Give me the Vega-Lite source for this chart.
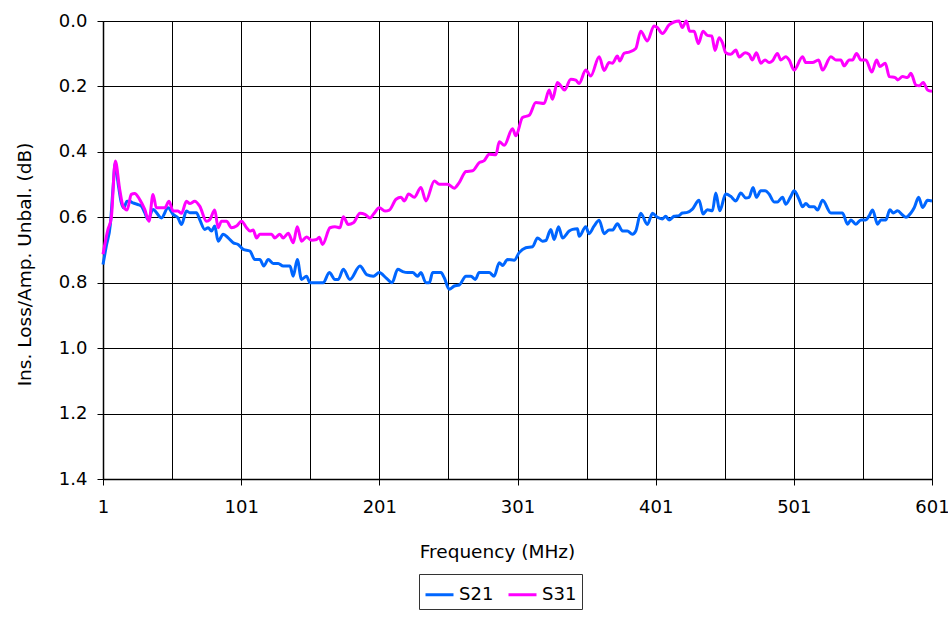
{
"$schema": "https://vega.github.io/schema/vega-lite/v6.json",
"autosize": "none",
"width": 829,
"height": 458,
"padding": {"left": 103, "top": 21, "right": 16, "bottom": 138},
"background": "white",
"config": {"view": {"stroke": "#808080", "strokeWidth": 1}, "font": "DejaVu Sans"},
"datasets": {
"S21": [{"f":1,"v":0.744},{"f":3.4,"v":0.688},{"f":6.3,"v":0.622},{"f":8.2,"v":0.515},{"f":9.9,"v":0.434},{"f":11.9,"v":0.495},{"f":14.3,"v":0.556},{"f":16,"v":0.571},{"f":18.4,"v":0.551},{"f":20.3,"v":0.551},{"f":22.7,"v":0.556},{"f":26.4,"v":0.561},{"f":28.8,"v":0.566},{"f":31.2,"v":0.586},{"f":33.6,"v":0.607},{"f":37.2,"v":0.576},{"f":43.3,"v":0.602},{"f":48.1,"v":0.571},{"f":51.7,"v":0.591},{"f":55.3,"v":0.602},{"f":57.8,"v":0.622},{"f":61.4,"v":0.581},{"f":63.8,"v":0.586},{"f":68.6,"v":0.586},{"f":71,"v":0.607},{"f":74.7,"v":0.637},{"f":77.1,"v":0.632},{"f":79.5,"v":0.642},{"f":81.9,"v":0.627},{"f":84.3,"v":0.673},{"f":88,"v":0.652},{"f":91.6,"v":0.663},{"f":95.2,"v":0.678},{"f":98.8,"v":0.683},{"f":102.5,"v":0.698},{"f":107.3,"v":0.703},{"f":110.9,"v":0.729},{"f":114.5,"v":0.729},{"f":117.4,"v":0.749},{"f":120.6,"v":0.729},{"f":124.2,"v":0.741},{"f":127.8,"v":0.741},{"f":131.4,"v":0.749},{"f":136.3,"v":0.749},{"f":138.7,"v":0.78},{"f":141.6,"v":0.729},{"f":144.7,"v":0.79},{"f":148.3,"v":0.78},{"f":150.8,"v":0.8},{"f":160.4,"v":0.8},{"f":164.8,"v":0.769},{"f":168.9,"v":0.79},{"f":171.3,"v":0.79},{"f":174.9,"v":0.759},{"f":179.7,"v":0.79},{"f":187,"v":0.749},{"f":191.8,"v":0.775},{"f":196.7,"v":0.78},{"f":201,"v":0.769},{"f":205.8,"v":0.785},{"f":210.2,"v":0.8},{"f":214.3,"v":0.759},{"f":217.9,"v":0.766},{"f":221.5,"v":0.769},{"f":225.1,"v":0.769},{"f":228.7,"v":0.78},{"f":231.1,"v":0.769},{"f":234.7,"v":0.8},{"f":237.2,"v":0.8},{"f":239.6,"v":0.769},{"f":245.6,"v":0.769},{"f":248,"v":0.785},{"f":251.6,"v":0.82},{"f":255.2,"v":0.81},{"f":258.8,"v":0.807},{"f":263.7,"v":0.78},{"f":267.3,"v":0.78},{"f":270.4,"v":0.79},{"f":273.3,"v":0.769},{"f":280.5,"v":0.769},{"f":284.1,"v":0.78},{"f":287.8,"v":0.739},{"f":290.2,"v":0.747},{"f":293.8,"v":0.729},{"f":298.6,"v":0.731},{"f":302.2,"v":0.708},{"f":307,"v":0.693},{"f":311.9,"v":0.69},{"f":315.5,"v":0.663},{"f":319.1,"v":0.673},{"f":321.5,"v":0.671},{"f":325.1,"v":0.637},{"f":327.5,"v":0.668},{"f":330.7,"v":0.629},{"f":333.6,"v":0.663},{"f":338.4,"v":0.642},{"f":340.8,"v":0.637},{"f":344.4,"v":0.635},{"f":345.6,"v":0.658},{"f":350.4,"v":0.629},{"f":352.8,"v":0.65},{"f":356.4,"v":0.627},{"f":360.1,"v":0.609},{"f":363.7,"v":0.65},{"f":367.3,"v":0.639},{"f":369.7,"v":0.639},{"f":373.3,"v":0.62},{"f":377,"v":0.642},{"f":380.5,"v":0.642},{"f":384.2,"v":0.652},{"f":386.6,"v":0.642},{"f":390.2,"v":0.588},{"f":395,"v":0.622},{"f":398.7,"v":0.588},{"f":402.2,"v":0.6},{"f":405.8,"v":0.605},{"f":408.2,"v":0.597},{"f":410.7,"v":0.608},{"f":414.3,"v":0.597},{"f":417.9,"v":0.595},{"f":420.3,"v":0.587},{"f":423.9,"v":0.585},{"f":427.6,"v":0.575},{"f":432.4,"v":0.548},{"f":435.3,"v":0.59},{"f":438.4,"v":0.577},{"f":442.1,"v":0.58},{"f":444.5,"v":0.526},{"f":447.4,"v":0.58},{"f":451.7,"v":0.529},{"f":455.3,"v":0.536},{"f":459,"v":0.55},{"f":462.6,"v":0.526},{"f":466.2,"v":0.541},{"f":468.6,"v":0.539},{"f":471.5,"v":0.509},{"f":473.9,"v":0.539},{"f":477.1,"v":0.519},{"f":480.2,"v":0.519},{"f":483.1,"v":0.529},{"f":486.7,"v":0.553},{"f":489.1,"v":0.553},{"f":492.8,"v":0.539},{"f":495.2,"v":0.56},{"f":498.8,"v":0.536},{"f":501.2,"v":0.519},{"f":504.8,"v":0.545},{"f":507.3,"v":0.568},{"f":509.7,"v":0.558},{"f":512.6,"v":0.568},{"f":515.7,"v":0.568},{"f":518.1,"v":0.578},{"f":521.8,"v":0.548},{"f":527.8,"v":0.587},{"f":531.4,"v":0.587},{"f":536.2,"v":0.587},{"f":539.9,"v":0.621},{"f":542.3,"v":0.608},{"f":545.9,"v":0.621},{"f":549.5,"v":0.608},{"f":553.1,"v":0.608},{"f":555.6,"v":0.595},{"f":558,"v":0.578},{"f":561.6,"v":0.621},{"f":564,"v":0.608},{"f":567.6,"v":0.608},{"f":570.5,"v":0.577},{"f":573,"v":0.587},{"f":576.1,"v":0.58},{"f":579.7,"v":0.593},{"f":582.1,"v":0.6},{"f":585.7,"v":0.587},{"f":588.2,"v":0.57},{"f":591.3,"v":0.539},{"f":594.2,"v":0.57},{"f":597.8,"v":0.548},{"f":601,"v":0.55}],
"S31": [{"f":1,"v":0.713},{"f":4.6,"v":0.637},{"f":7,"v":0.602},{"f":9.9,"v":0.428},{"f":13.1,"v":0.515},{"f":15.5,"v":0.566},{"f":18.4,"v":0.578},{"f":21.5,"v":0.53},{"f":23.9,"v":0.527},{"f":27.6,"v":0.546},{"f":31.2,"v":0.576},{"f":34.3,"v":0.612},{"f":37.2,"v":0.53},{"f":39.6,"v":0.571},{"f":45.7,"v":0.571},{"f":48.8,"v":0.551},{"f":51.7,"v":0.581},{"f":55.3,"v":0.581},{"f":57.8,"v":0.588},{"f":61.4,"v":0.551},{"f":63.8,"v":0.558},{"f":67.4,"v":0.551},{"f":71,"v":0.566},{"f":75.9,"v":0.612},{"f":78.3,"v":0.607},{"f":81.9,"v":0.578},{"f":84.3,"v":0.632},{"f":86.8,"v":0.612},{"f":90.4,"v":0.612},{"f":94,"v":0.632},{"f":97.6,"v":0.627},{"f":101.2,"v":0.612},{"f":104.9,"v":0.632},{"f":107.3,"v":0.642},{"f":109.7,"v":0.639},{"f":112.1,"v":0.663},{"f":114.5,"v":0.652},{"f":119.4,"v":0.652},{"f":123,"v":0.652},{"f":125.4,"v":0.663},{"f":129,"v":0.652},{"f":131.4,"v":0.663},{"f":135.1,"v":0.649},{"f":138.7,"v":0.678},{"f":141.6,"v":0.629},{"f":144.7,"v":0.673},{"f":148.3,"v":0.66},{"f":152,"v":0.67},{"f":155.6,"v":0.668},{"f":157.5,"v":0.661},{"f":159.9,"v":0.683},{"f":165.3,"v":0.632},{"f":168.9,"v":0.629},{"f":172.5,"v":0.632},{"f":174.9,"v":0.598},{"f":178.5,"v":0.622},{"f":182.2,"v":0.617},{"f":187,"v":0.588},{"f":190.6,"v":0.591},{"f":194.2,"v":0.602},{"f":196.7,"v":0.591},{"f":201,"v":0.571},{"f":205.1,"v":0.581},{"f":208.2,"v":0.578},{"f":213.1,"v":0.545},{"f":216.7,"v":0.539},{"f":219.1,"v":0.55},{"f":222.2,"v":0.529},{"f":226.3,"v":0.539},{"f":231.1,"v":0.509},{"f":234.7,"v":0.55},{"f":240.8,"v":0.489},{"f":244.4,"v":0.499},{"f":250.4,"v":0.499},{"f":255.2,"v":0.511},{"f":258.8,"v":0.494},{"f":263.7,"v":0.46},{"f":268.5,"v":0.458},{"f":273.3,"v":0.433},{"f":276.9,"v":0.427},{"f":280.5,"v":0.407},{"f":285.4,"v":0.409},{"f":287.8,"v":0.369},{"f":291.4,"v":0.38},{"f":297.4,"v":0.329},{"f":299.8,"v":0.351},{"f":304.6,"v":0.295},{"f":309.5,"v":0.288},{"f":314.3,"v":0.249},{"f":320.3,"v":0.252},{"f":323.9,"v":0.211},{"f":326.3,"v":0.239},{"f":329.9,"v":0.188},{"f":332.3,"v":0.198},{"f":335,"v":0.211},{"f":339.6,"v":0.178},{"f":343.2,"v":0.181},{"f":345.6,"v":0.191},{"f":350.4,"v":0.15},{"f":354,"v":0.168},{"f":360.1,"v":0.109},{"f":363.7,"v":0.151},{"f":367.3,"v":0.127},{"f":369.7,"v":0.129},{"f":373.3,"v":0.107},{"f":375,"v":0.122},{"f":378.1,"v":0.099},{"f":381.8,"v":0.095},{"f":386.6,"v":0.084},{"f":390.2,"v":0.031},{"f":395,"v":0.061},{"f":399.8,"v":0.015},{"f":402.2,"v":0.02},{"f":405.9,"v":0.038},{"f":410.7,"v":0.012},{"f":414.3,"v":0.003},{"f":417.9,"v":0},{"f":420.3,"v":0.02},{"f":423.2,"v":0},{"f":425.6,"v":0.031},{"f":428.8,"v":0.031},{"f":431.9,"v":0.069},{"f":435.3,"v":0.031},{"f":438.4,"v":0.044},{"f":441.6,"v":0.046},{"f":444,"v":0.09},{"f":446.9,"v":0.051},{"f":449.3,"v":0.066},{"f":451.7,"v":0.097},{"f":455.3,"v":0.102},{"f":459,"v":0.089},{"f":461.4,"v":0.11},{"f":465.7,"v":0.097},{"f":468.6,"v":0.102},{"f":471,"v":0.119},{"f":473.9,"v":0.097},{"f":477.1,"v":0.129},{"f":480.2,"v":0.119},{"f":483.1,"v":0.127},{"f":485.5,"v":0.122},{"f":489.1,"v":0.099},{"f":491.6,"v":0.119},{"f":495.2,"v":0.109},{"f":497.6,"v":0.119},{"f":501.2,"v":0.15},{"f":507.3,"v":0.109},{"f":509.7,"v":0.127},{"f":514.5,"v":0.127},{"f":518.9,"v":0.119},{"f":521.8,"v":0.15},{"f":527.8,"v":0.109},{"f":531.4,"v":0.119},{"f":535,"v":0.119},{"f":537.4,"v":0.137},{"f":541.1,"v":0.119},{"f":543.5,"v":0.119},{"f":546.4,"v":0.099},{"f":549.5,"v":0.119},{"f":553.1,"v":0.119},{"f":557.5,"v":0.156},{"f":560.9,"v":0.119},{"f":563.3,"v":0.139},{"f":567.2,"v":0.129},{"f":570.1,"v":0.17},{"f":574.4,"v":0.173},{"f":576.1,"v":0.18},{"f":579.7,"v":0.17},{"f":583.3,"v":0.173},{"f":585.7,"v":0.16},{"f":589.4,"v":0.196},{"f":591.8,"v":0.198},{"f":594.7,"v":0.188},{"f":597.8,"v":0.211},{"f":601,"v":0.215}]
},
"layer": [
{"data": {"name": "S21"},
 "mark": {"type": "line", "strokeWidth": 3, "interpolate": "monotone"},
 "encoding": {
  "x": {"field": "f", "type": "quantitative", "scale": {"domain": [1, 601], "nice": false, "zero": false},
    "axis": {"values": [1,51,101,151,201,251,301,351,401,451,501,551,601], "labelExpr": "(datum.value - 1) % 100 === 0 ? datum.label : ''",
      "labelFlush": false, "labelOverlap": false,
      "grid": true, "gridColor": "black", "gridOpacity": 1, "gridWidth": 1,
      "domainColor": "black", "domainWidth": 1.5,
      "tickColor": {"condition": {"test": "(datum.value - 1) % 100 !== 0", "value": "transparent"}, "value": "black"},
      "tickSize": 6, "labelFontSize": 18, "labelColor": "black", "labelPadding": 13, "labelFont": "DejaVu Sans",
      "title": "Frequency (MHz)", "titleFontSize": 18.5, "titleFontWeight": "normal", "titleColor": "black", "titlePadding": 26, "titleX": 394, "titleFont": "DejaVu Sans"}},
  "y": {"field": "v", "type": "quantitative", "scale": {"domain": [0, 1.4], "reverse": true, "nice": false},
    "axis": {"values": [0,0.2,0.4,0.6,0.8,1.0,1.2,1.4], "format": ".1f", "labelFlush": false,
      "grid": true, "gridColor": "black", "gridOpacity": 1, "gridWidth": 1,
      "domainColor": "black", "domainWidth": 1.5, "tickColor": "black", "tickSize": 6,
      "labelFontSize": 18, "labelColor": "black", "labelPadding": 10, "labelFont": "DejaVu Sans",
      "title": "Ins. Loss/Amp. Unbal. (dB)", "titleFontSize": 18.5, "titleFontWeight": "normal", "titleColor": "black", "titlePadding": 24, "titleY": 243, "titleFont": "DejaVu Sans"}},
  "color": {"datum": "S21", "type": "nominal", "scale": {"domain": ["S21", "S31"], "range": ["#0066ff", "#ff00ff"]},
    "legend": {"title": null, "orient": "none", "legendX": 316, "legendY": 553, "direction": "horizontal",
      "symbolType": "stroke", "symbolSize": 784, "symbolStrokeWidth": 3, "labelFontSize": 18, "labelColor": "black", "labelFont": "DejaVu Sans",
      "strokeColor": "#333333", "padding": 5, "columnPadding": 8, "labelOffset": 4}}
 }},
{"data": {"name": "S31"},
 "mark": {"type": "line", "strokeWidth": 3, "interpolate": "monotone"},
 "encoding": {
  "x": {"field": "f", "type": "quantitative"},
  "y": {"field": "v", "type": "quantitative"},
  "color": {"datum": "S31", "type": "nominal"}
 }}
]
}
